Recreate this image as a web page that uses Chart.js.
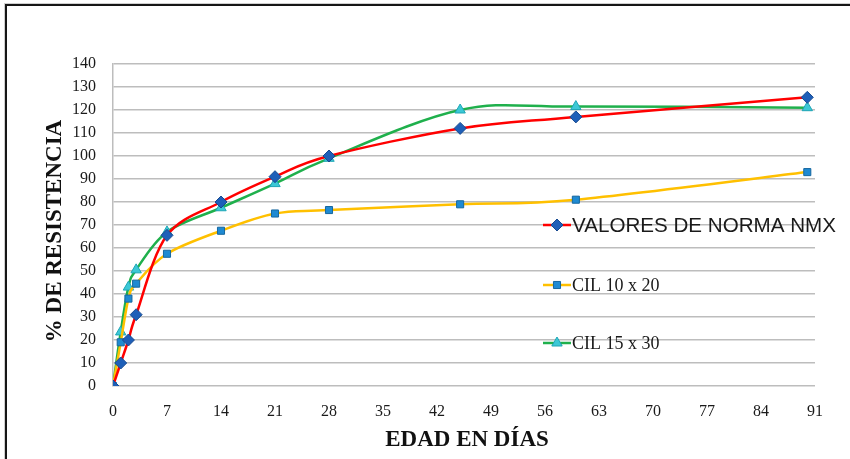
<!DOCTYPE html>
<html>
<head>
<meta charset="utf-8">
<script src="https://cdn.jsdelivr.net/npm/chart.js@4.4.0/dist/chart.umd.min.js"></script>
<style>
  html, body { margin: 0; padding: 0; background: #fff; }
  #wrap { position: relative; width: 850px; height: 459px; overflow: hidden; }
  #frame { position: absolute; left: 5px; top: 4px; right: -10px; bottom: -10px;
           border-left: 2px solid #161616; border-top: 2px solid #161616;
           box-shadow: -1px -1px 0 #cfcfcf; }
  canvas { position: absolute; left: 0; top: 0; }
</style>
</head>
<body>
<div id="wrap">
  <div id="frame"></div>
  <canvas id="chart" width="850" height="459"></canvas>
</div>
<script>
// Age of the specimens (days) and strength as % of design value
const days      = [0, 1, 2, 3, 7, 14, 21, 28, 45, 60, 90];
const normaNMX  = [0, 10, 20, 31, 65.5, 80, 91, 100, 112, 117, 125.5];
const cil10x20  = [0, 19, 38, 44.5, 57.5, 67.5, 75, 76.5, 79, 81, 93];
const cil15x30  = [0, 23.5, 43, 50.5, 67, 77.5, 88, 99, 120, 121.5, 121];

const seriesNames = ['VALORES DE NORMA NMX', 'CIL 10 x 20', 'CIL 15 x 30'];
const xTicks = [0, 7, 14, 21, 28, 35, 42, 49, 56, 63, 70, 77, 84, 91];
const yTicks = [0, 10, 20, 30, 40, 50, 60, 70, 80, 90, 100, 110, 120, 130, 140];
const xTitle = 'EDAD EN DÍAS';
const yTitle = '% DE RESISTENCIA';

const toPoints = vals => days.map((d, i) => ({ x: d, y: vals[i] }));

const PAD = { left: 0, top: 64, right: 35, bottom: 0 };
const AREA_LEFT = 113, AREA_BOTTOM = 386, H = 459;

// Catmull-Rom style smoothing: control points at P ± (next - prev) / 6
const smoothCurves = {
  id: 'smoothCurves',
  beforeDatasetsDraw(chart) {
    chart.getSortedVisibleDatasetMetas().forEach(meta => {
      const line = meta.dataset;
      if (!line) return;
      line.updateControlPoints(chart.chartArea, 'x');
      const pts = meta.data;
      const n = pts.length;
      for (let i = 0; i < n; i++) {
        const p = pts[i];
        const prev = pts[Math.max(0, i - 1)];
        const next = pts[Math.min(n - 1, i + 1)];
        const tx = (next.x - prev.x) / 6, ty = (next.y - prev.y) / 6;
        p.cp1x = p.x - tx; p.cp1y = p.y - ty;
        p.cp2x = p.x + tx; p.cp2y = p.y + ty;
      }
    });
  }
};

// Axis titles drawn in the margins
const axisTitles = {
  id: 'axisTitles',
  afterDraw(chart) {
    const ctx = chart.ctx;
    ctx.save();
    ctx.fillStyle = '#111';
    ctx.font = 'bold 23px "Liberation Serif", serif';
    ctx.textAlign = 'center';
    ctx.textBaseline = 'middle';
    ctx.fillText(xTitle, 467, 440);
    ctx.translate(55, 231);
    ctx.rotate(-Math.PI / 2);
    ctx.fillText(yTitle, 0, 0);
    ctx.restore();
  }
};

// Legend entries stacked over the right part of the plot
const sideLegend = {
  id: 'sideLegend',
  afterDraw(chart) {
    const ctx = chart.ctx;
    const rows = [225, 285, 343];
    const fonts = ['20.6px "Liberation Sans", sans-serif', '18px "Liberation Serif", serif', '18px "Liberation Serif", serif'];
    chart.data.datasets.forEach((ds, i) => {
      const y = rows[i];
      ctx.save();
      ctx.strokeStyle = ds.borderColor;
      ctx.lineWidth = 2.5;
      ctx.beginPath();
      ctx.moveTo(543, y);
      ctx.lineTo(571, y);
      ctx.stroke();
      ctx.fillStyle = ds.pointBackgroundColor;
      ctx.strokeStyle = ds.pointBorderColor;
      ctx.lineWidth = 1;
      Chart.helpers.drawPoint(ctx, {
        pointStyle: ds.pointStyle, radius: ds.pointRadius, rotation: 0, borderWidth: 1
      }, 557, y);
      ctx.fillStyle = '#1a1a1a';
      ctx.font = fonts[i];
      ctx.textAlign = 'left';
      ctx.textBaseline = 'middle';
      ctx.fillText(ds.label, 572, y + 1);
      ctx.restore();
    });
  }
};

new Chart(document.getElementById('chart'), {
  type: 'line',
  data: {
    datasets: [
      {
        label: seriesNames[0], data: toPoints(normaNMX),
        borderColor: '#ff0000', borderWidth: 2.5, tension: 0.4, capBezierPoints: false,
        pointStyle: 'rectRot', pointRadius: 6,
        pointBackgroundColor: '#1e5fb8', pointBorderColor: '#174a90', pointBorderWidth: 1
      },
      {
        label: seriesNames[1], data: toPoints(cil10x20),
        borderColor: '#ffc000', borderWidth: 2.5, tension: 0.4, capBezierPoints: false,
        pointStyle: 'rect', pointRadius: 5,
        pointBackgroundColor: '#1f8ad2', pointBorderColor: '#16679f', pointBorderWidth: 1
      },
      {
        label: seriesNames[2], data: toPoints(cil15x30),
        borderColor: '#1fb04c', borderWidth: 2.5, tension: 0.4, capBezierPoints: false,
        pointStyle: 'triangle', pointRadius: 6,
        pointBackgroundColor: '#3cc8d6', pointBorderColor: '#1ea6b6', pointBorderWidth: 1
      }
    ]
  },
  options: {
    responsive: false,
    animation: false,
    devicePixelRatio: 1,
    layout: { padding: PAD },
    plugins: { legend: { display: false }, tooltip: { enabled: false } },
    scales: {
      x: {
        type: 'linear', min: 0, max: 91,
        afterBuildTicks: s => { s.ticks = xTicks.map(v => ({ value: v })); },
        afterFit: s => { s.height = H - AREA_BOTTOM - PAD.bottom; },
        grid: { display: false, drawTicks: false },
        border: { display: false },
        ticks: { padding: 16, color: '#1a1a1a', font: { family: '"Liberation Serif", serif', size: 16 }, maxRotation: 0 }
      },
      y: {
        min: 0, max: 140,
        afterBuildTicks: s => { s.ticks = yTicks.map(v => ({ value: v })); },
        afterFit: s => { s.width = AREA_LEFT - PAD.left; },
        grid: { color: '#bdbdbd', lineWidth: 1.5, drawTicks: false },
        border: { display: true, color: '#bdbdbd', width: 1.5 },
        ticks: { padding: 17, color: '#1a1a1a', font: { family: '"Liberation Serif", serif', size: 16 } }
      }
    }
  },
  plugins: [smoothCurves, axisTitles, sideLegend]
});
</script>
</body>
</html>
